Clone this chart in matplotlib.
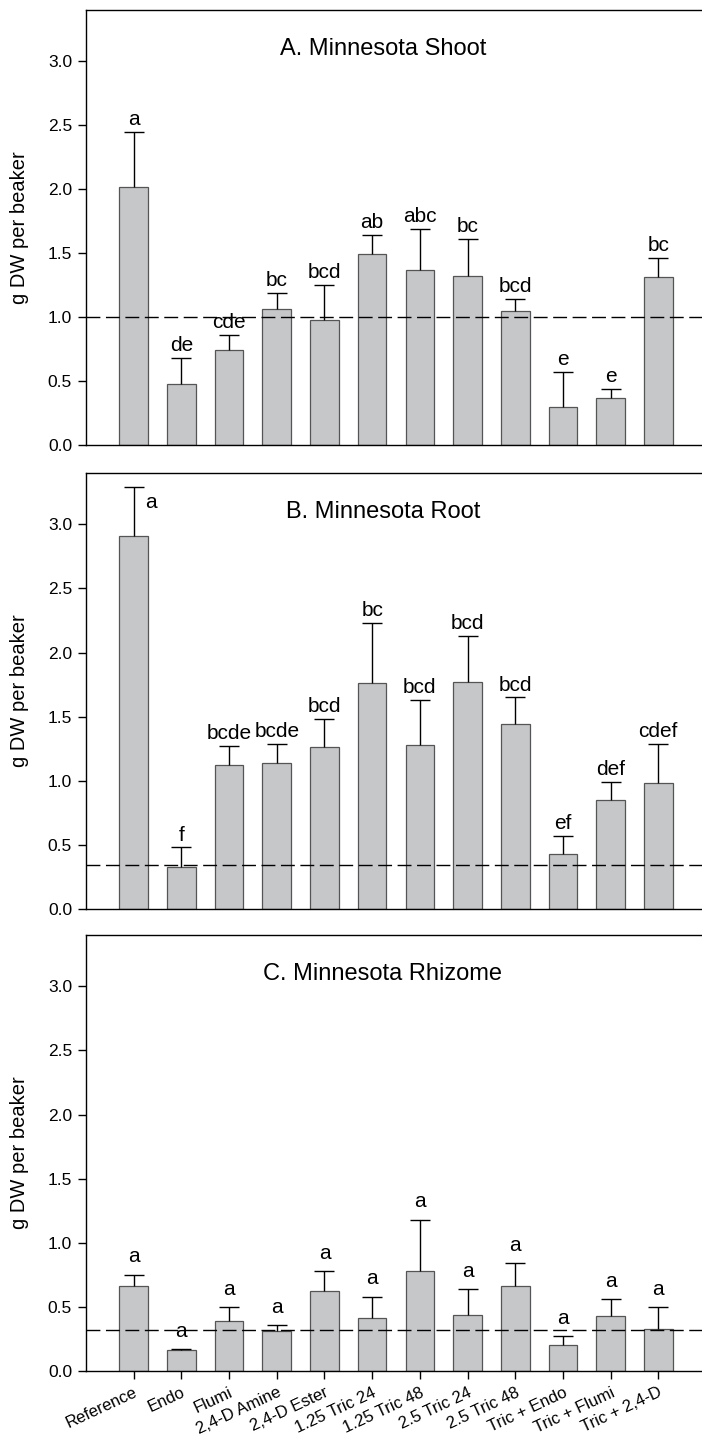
import matplotlib
matplotlib.use("Agg")
import matplotlib.pyplot as plt
import numpy as np

plt.rcParams['font.family'] = ['Liberation Sans', 'DejaVu Sans']

treatments = ["Reference", "Endo", "Flumi", "2,4-D Amine", "2,4-D Ester",
              "1.25 Tric 24", "1.25 Tric 48", "2.5 Tric 24", "2.5 Tric 48",
              "Tric + Endo", "Tric + Flumi", "Tric + 2,4-D"]

# panel A: shoot
shoot_mean = [2.02, 0.48, 0.74, 1.06, 0.98, 1.49, 1.37, 1.32, 1.05, 0.30, 0.37, 1.31]
shoot_top = [2.45, 0.68, 0.86, 1.19, 1.25, 1.64, 1.69, 1.61, 1.14, 0.57, 0.44, 1.46]
shoot_letters = ["a", "de", "cde", "bc", "bcd", "ab", "abc", "bc", "bcd", "e", "e", "bc"]
shoot_line = 1.0

# panel B: root
root_mean = [2.91, 0.33, 1.12, 1.14, 1.26, 1.76, 1.28, 1.77, 1.44, 0.43, 0.85, 0.98]
root_top = [3.29, 0.48, 1.27, 1.29, 1.48, 2.23, 1.63, 2.13, 1.65, 0.57, 0.99, 1.29]
root_letters = ["a", "f", "bcde", "bcde", "bcd", "bc", "bcd", "bcd", "bcd", "ef", "def", "cdef"]
root_line = 0.34

# panel C: rhizome
rhiz_mean = [0.66, 0.16, 0.39, 0.31, 0.62, 0.41, 0.78, 0.44, 0.66, 0.20, 0.43, 0.33]
rhiz_top = [0.75, 0.17, 0.50, 0.36, 0.78, 0.58, 1.18, 0.64, 0.84, 0.27, 0.56, 0.50]
rhiz_letters = ["a"] * 12
rhiz_line = 0.32

panels = [
    ("A. Minnesota Shoot", shoot_mean, shoot_top, shoot_letters, shoot_line),
    ("B. Minnesota Root", root_mean, root_top, root_letters, root_line),
    ("C. Minnesota Rhizome", rhiz_mean, rhiz_top, rhiz_letters, rhiz_line),
]

H = 1437.0
W = 702.0
# (top px, bottom px) for each panel
boxes = [(10, 445), (473, 909), (935, 1371)]
left = 86 / W
right = 706 / W

fig = plt.figure(figsize=(7.02, 14.37), dpi=100)
x = np.arange(len(treatments))

for k, ((title, mean, top, letters, ref), (ytop, ybot)) in enumerate(zip(panels, boxes)):
    ax = fig.add_axes([left, 1 - ybot / H, right - left, (ybot - ytop) / H])
    mean = np.array(mean)
    top = np.array(top)
    ax.bar(x, mean, width=0.6, color="#c6c7c9", edgecolor="#555555", linewidth=0.9, zorder=2)
    eb = ax.errorbar(x, mean, yerr=[np.zeros_like(mean), top - mean], fmt="none",
                     ecolor="black", elinewidth=1, capsize=7.5, capthick=1, zorder=3)
    eb[1][0].set_visible(False)
    ax.axhline(ref, color="black", lw=1, ls=(0, (10, 4)), zorder=4)

    for i, (t, lab) in enumerate(zip(top, letters)):
        if k == 1 and i == 0:
            ax.annotate(lab, (i, t), xytext=(8, -4), textcoords="offset points",
                        ha="left", va="top", fontsize=15)
        else:
            off = 6 if k == 2 else 2
            ax.annotate(lab, (i, t), xytext=(0, off), textcoords="offset points",
                        ha="center", va="bottom", fontsize=15)

    ax.text(0.479, 0.91, title, transform=ax.transAxes, ha="center", va="center", fontsize=17)

    ax.set_xlim(-1, 12)
    ax.set_ylim(0, 3.4)
    ax.set_yticks(np.arange(0, 3.01, 0.5))
    ax.set_yticklabels([f"{v:.1f}" for v in np.arange(0, 3.01, 0.5)])
    ax.tick_params(axis="y", direction="out", length=6, width=1, labelsize=12.5, pad=4)
    ax.set_ylabel("g DW per beaker", fontsize=14.5)
    ax.yaxis.set_label_coords(-0.092, 0.5)
    for s in ax.spines.values():
        s.set_linewidth(1)

    if k == 2:
        ax.set_xticks(x)
        ax.set_xticklabels(treatments, rotation=25, ha="right", rotation_mode="anchor", fontsize=12)
        ax.tick_params(axis="x", direction="out", length=6, width=1, pad=4)
    else:
        ax.set_xticks([])

fig.savefig("out.png", dpi=100)
